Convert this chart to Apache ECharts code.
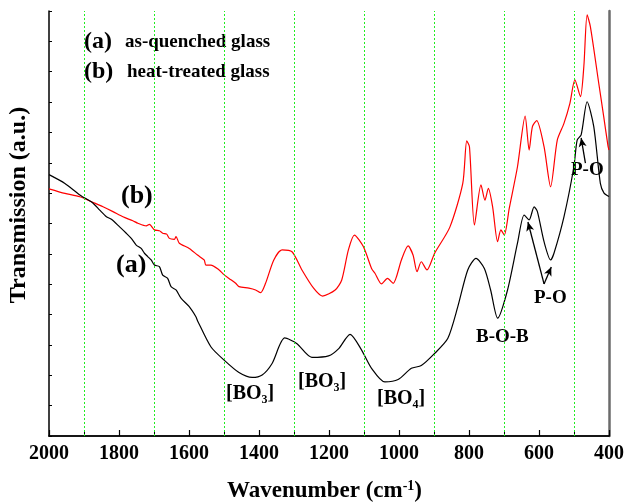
<!DOCTYPE html>
<html>
<head>
<meta charset="utf-8">
<script src="https://cdn.jsdelivr.net/npm/echarts@6/dist/echarts.min.js"></script>
<style>
  html, body { margin: 0; padding: 0; background: #fff; }
  #chart { width: 627px; height: 502px; }
</style>
</head>
<body>
<div id="chart"></div>
<script>
// FTIR transmission spectra, wavenumber in cm^-1, transmission in arbitrary units
const waveA = [2000, 1954.5, 1911.9, 1874.1, 1855.1, 1836, 1821.8, 1798.2, 1779.2, 1764.9, 1750.8, 1736.6,
  1727.2, 1717.8, 1708.1, 1698.8, 1684.6, 1675.2, 1661, 1651.3, 1637.1, 1622.9, 1599.3, 1580.3, 1575.7, 1537.6,
  1499.8, 1457.2, 1419.4, 1391, 1362.6, 1326.5, 1292.4, 1248.9, 1201.4, 1173, 1139.8, 1106.8, 1078.4,
  1040.3, 1002.5, 964.7, 936.3, 898.2, 860.4, 832, 803.6, 780, 756.1, 738.2, 718.3, 689.9, 661.5,
  642.4, 628.2, 614, 604.6, 585.6, 566.8, 557.2, 528.7, 500.3, 491, 479.6, 462.5, 443.5, 424.7, 414.2, 400];
const transA = [8.61, 8.32, 7.94, 7.67, 7.44, 7.22, 7.14, 6.89, 6.68, 6.51, 6.29, 6.18,
  6.02, 5.91, 5.80, 5.63, 5.58, 5.30, 5.19, 4.92, 4.81, 4.54, 4.26, 3.93, 3.80, 2.94,
  2.50, 2.09, 1.93, 2.01, 2.39, 3.23, 3.05, 2.59, 2.64, 2.87, 3.35, 2.83, 2.23,
  1.78, 1.86, 2.23, 2.32, 2.72, 3.22, 4.26, 5.47, 5.85, 5.52, 4.81, 3.88, 4.81, 6.35,
  7.28, 7.12, 7.55, 7.39, 6.40, 5.80, 6.02, 7.22, 8.87, 9.75, 9.92, 11.01, 10.19, 8.32, 8.00, 7.89];

const waveB = [2000, 1954.5, 1911.9, 1869.3, 1845.7, 1817.3, 1788.8, 1760.4, 1746.2, 1722.3, 1712.9, 1698.8,
  1684.6, 1675.2, 1663.8, 1656.1, 1641.9, 1637.1, 1627.7, 1599.3, 1575.7, 1556.7, 1551.8, 1537.6, 1514,
  1502.7, 1485.6, 1466.6, 1457.2, 1428.8, 1409.7, 1395.5, 1381.3, 1357.7, 1334.1, 1305.7, 1277.3, 1244,
  1218.5, 1182.4, 1163.6, 1144.6, 1127.5, 1101.9, 1078.4, 1068.7, 1050, 1032.9, 1016.7, 993.1, 974.1,
  959.9, 948.5, 936.3, 920.1, 898.2, 854.7, 817.8, 806.4, 798.7, 784.5, 765.8, 754.4, 744.7, 732.5,
  718.3, 708.9, 699.3, 685, 661.5, 639.6, 628.2, 618.8, 606.6, 585.6, 566.8, 547.8, 528.7, 511.7,
  497.5, 481.6, 471.9, 462.5, 453.1, 429.3, 415.1, 402.8, 400];
const transB = [8.14, 7.99, 7.88, 7.67, 7.55, 7.39, 7.22, 7.09, 7.01, 6.92, 6.97, 6.79,
  6.76, 6.68, 6.65, 6.51, 6.48, 6.57, 6.35, 6.18, 5.96, 5.80, 5.63, 5.63, 5.47,
  5.34, 5.19, 5.03, 4.92, 4.87, 4.81, 4.72, 5.03, 5.80, 6.13, 6.07, 5.47, 4.87,
  4.61, 4.81, 5.14, 6.13, 6.62, 6.24, 5.52, 5.36, 5.01, 5.19, 5.03, 5.80, 6.26,
  5.96, 5.41, 5.74, 5.47, 6.02, 6.88, 8.32, 9.72, 9.53, 6.95, 8.27, 7.77, 8.16, 7.55,
  6.40, 6.79, 6.62, 7.50, 8.87, 10.54, 9.42, 10.19, 10.39, 9.53, 8.21, 9.75, 10.30, 10.96,
  11.73, 11.18, 12.17, 13.87, 13.48, 11.62, 10.52, 9.55, 9.42];

// reference grid lines at odd hundreds
const guideWaves = [1900, 1700, 1500, 1300, 1100, 900, 700, 500];

// arrows pointing at the P-O bands: [from, to] as [wavenumber, transmission]
const poArrows = [
  [[585.6, 5.01], [631.6, 7.05]],
  [[585.6, 5.01], [564.9, 5.57]],
  [[467.4, 8.99], [479.6, 9.82]]
];

const serif = '"Liberation Serif", "Times New Roman", serif';

const chart = echarts.init(document.getElementById('chart'), null, { renderer: 'canvas' });

const zip = (xs, ys) => xs.map((x, i) => [x, ys[i]]);

const bold = (size) => ({ fontFamily: serif, fontWeight: 'bold', fontSize: size, fill: '#000' });
const chem = (main, sub, size) => ({
  text: '{b|' + main + '}{s|' + sub + '}{b|]}',
  rich: {
    b: { fontFamily: serif, fontWeight: 'bold', fontSize: size, fill: '#000' },
    s: { fontFamily: serif, fontWeight: 'bold', fontSize: 12, fill: '#000', padding: [12, 0, 0, 0] }
  }
});

chart.setOption({
  animation: false,
  backgroundColor: '#fff',
  grid: { left: 49, right: 15, top: 11, bottom: 66, containLabel: false },
  xAxis: [{
    type: 'value', inverse: true, min: 400, max: 2000, interval: 200,
    axisLine: { show: true, lineStyle: { color: '#222', width: 1.5 } },
    axisTick: { show: true, inside: true, length: 6, lineStyle: { color: '#000', width: 1.2 } },
    minorTick: { show: true, splitNumber: 2, length: 6, lineStyle: { color: '#000', width: 1 } },
    axisLabel: { color: '#000', fontFamily: serif, fontWeight: 'bold', fontSize: 20, margin: 8,
      formatter: v => String(v) },
    splitLine: { show: false }
  }, {
    type: 'value', inverse: true, min: 400, max: 2000, position: 'top',
    axisLine: { show: true, lineStyle: { color: '#000', width: 1.5 } },
    axisTick: { show: false }, axisLabel: { show: false }, splitLine: { show: false }
  }],
  yAxis: [{
    type: 'value', min: 0, max: 14, interval: 1,
    axisLine: { show: true, lineStyle: { color: '#000', width: 1.5 } },
    axisTick: { show: true, inside: true, length: 3, lineStyle: { color: '#000', width: 1 } },
    axisLabel: { show: false },
    splitLine: { show: false }
  }, {
    type: 'value', min: 0, max: 14, position: 'right',
    axisLine: { show: true, lineStyle: { color: '#6b6b6b', width: 2.5 } },
    axisTick: { show: false }, axisLabel: { show: false }, splitLine: { show: false }
  }],
  series: [
    {
      name: '(b) heat-treated glass', type: 'line', data: zip(waveB, transB),
      showSymbol: false, smooth: 0.25, lineStyle: { color: '#ff0000', width: 1.2 },
      markLine: {
        silent: true, symbol: ['none', 'none'], label: { show: false },
        lineStyle: { color: '#22ee22', type: [2, 2], width: 1 },
        data: guideWaves.map(w => ({ xAxis: w }))
      }
    },
    {
      name: '(a) as-quenched glass', type: 'line', data: zip(waveA, transA),
      showSymbol: false, smooth: 0.25, lineStyle: { color: '#000', width: 1.2 },
      markLine: {
        silent: true, symbol: ['none', 'arrow'], symbolSize: [6, 9], label: { show: false },
        lineStyle: { color: '#000', type: 'solid', width: 1.3 },
        data: poArrows.map(([a, b]) => [{ coord: a }, { coord: b }])
      }
    }
  ],
  graphic: [
    { type: 'text', left: 84, top: 30, style: Object.assign({ text: '(a)' }, bold(24)) },
    { type: 'text', left: 125, top: 33, style: Object.assign({ text: 'as-quenched glass' }, bold(19)) },
    { type: 'text', left: 84, top: 60, style: Object.assign({ text: '(b)' }, bold(24)) },
    { type: 'text', left: 127, top: 63, style: Object.assign({ text: 'heat-treated glass' }, bold(19)) },
    { type: 'text', left: 121, top: 183, style: Object.assign({ text: '(b)' }, bold(26)) },
    { type: 'text', left: 116, top: 252, style: Object.assign({ text: '(a)' }, bold(26)) },
    { type: 'text', left: 226, top: 384, style: chem('[BO', '3', 20) },
    { type: 'text', left: 298, top: 372, style: chem('[BO', '3', 20) },
    { type: 'text', left: 377, top: 389, style: chem('[BO', '4', 20) },
    { type: 'text', left: 476, top: 328, style: Object.assign({ text: 'B-O-B' }, bold(19)) },
    { type: 'text', left: 534, top: 289, style: Object.assign({ text: 'P-O' }, bold(19)) },
    { type: 'text', left: 571, top: 161, style: Object.assign({ text: 'P-O' }, bold(19)) },
    { type: 'text', left: 227, top: 479, style: { text: '{w|Wavenumber (cm}{s|-1}{w|)}', rich: {
      w: { fontFamily: serif, fontWeight: 'bold', fontSize: 23, fill: '#000' },
      s: { fontFamily: serif, fontWeight: 'bold', fontSize: 14, fill: '#000', padding: [0, 0, 10, 0] } } } },
    { type: 'text', x: 7, y: 205, rotation: Math.PI / 2, style: { text: 'Transmission (a.u.)', align: 'center', verticalAlign: 'top',
      fontFamily: serif, fontWeight: 'bold', fontSize: 24, fill: '#000' } }
  ]
});
</script>
</body>
</html>
